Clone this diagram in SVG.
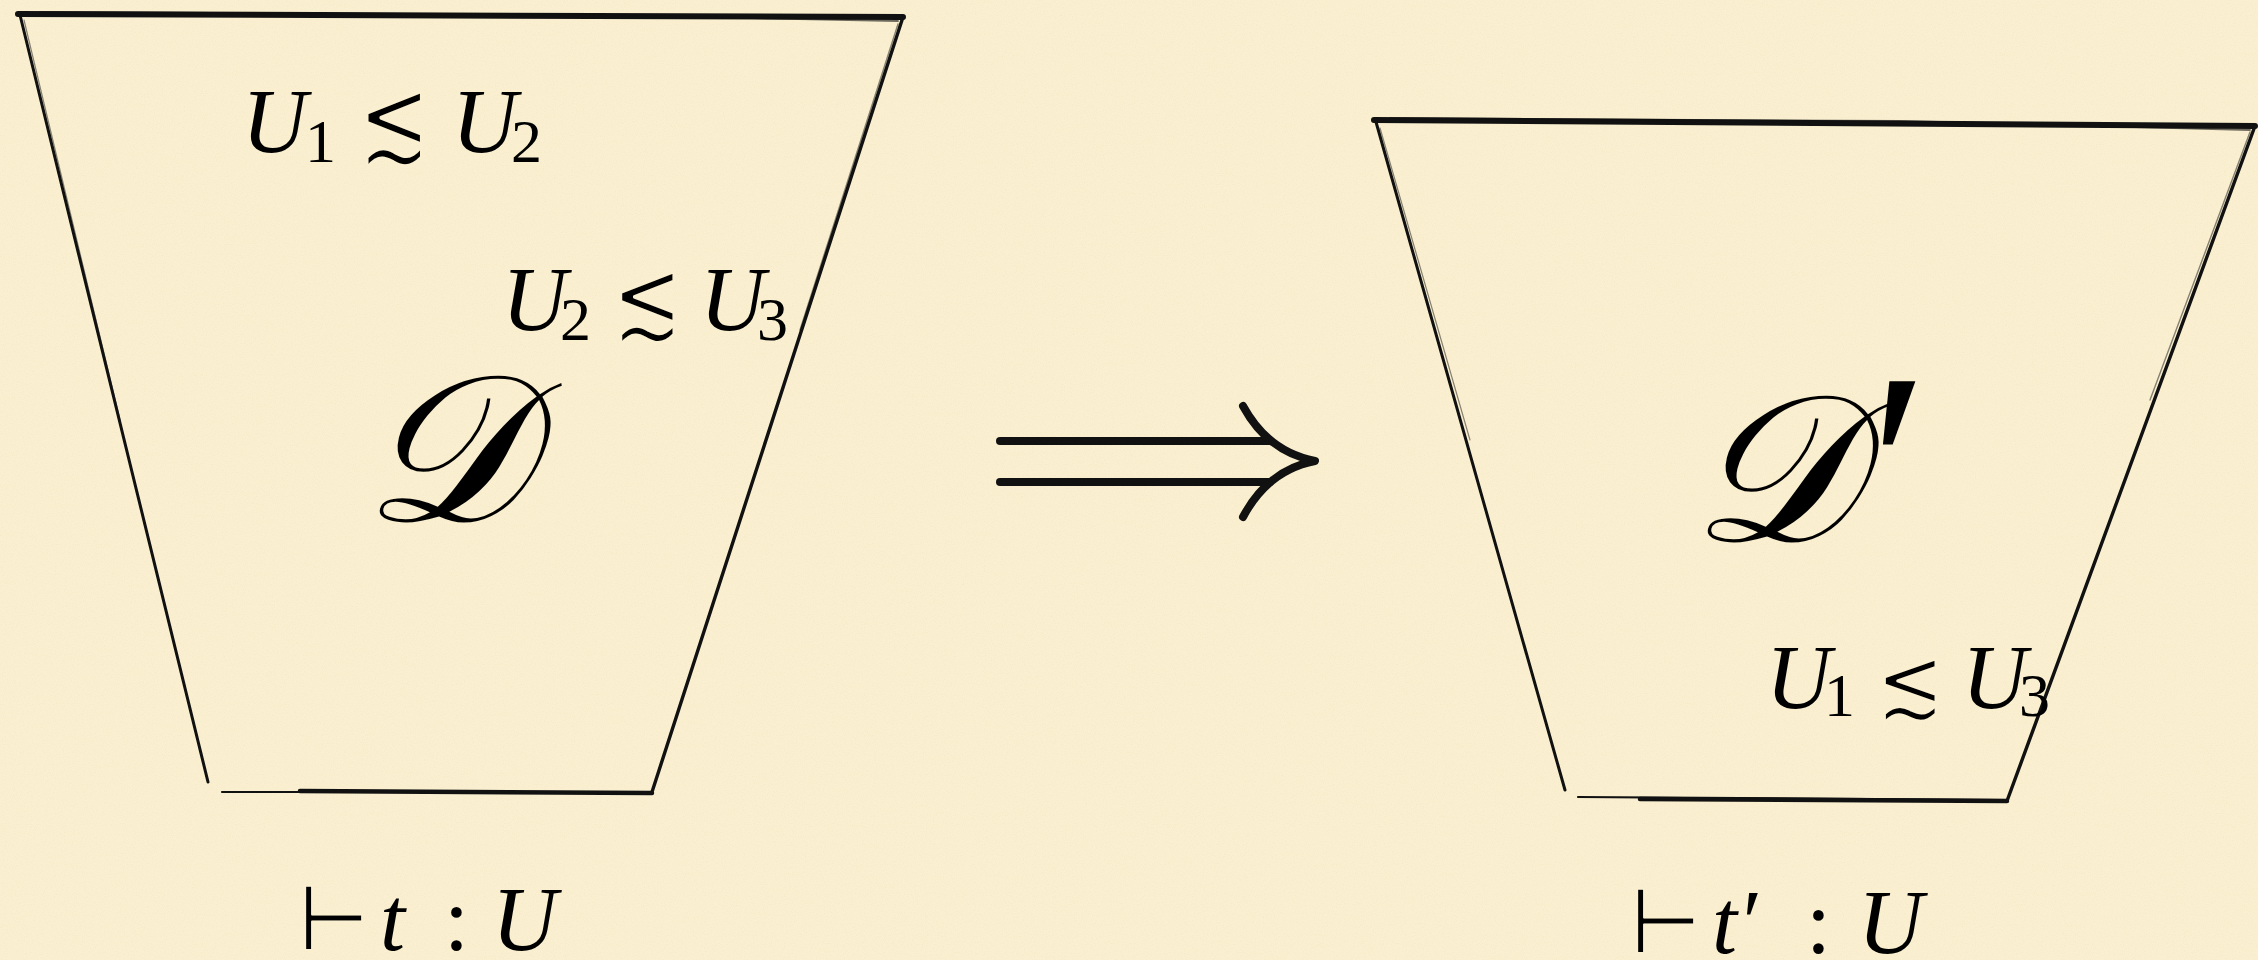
<svg xmlns="http://www.w3.org/2000/svg" width="2258" height="960" viewBox="0 0 2258 960">
<defs>
<filter id="paper" x="0" y="0" width="100%" height="100%">
<feTurbulence type="fractalNoise" baseFrequency="0.9" numOctaves="2" seed="3" result="n"/>
<feColorMatrix in="n" type="matrix" values="0 0 0 0 0.6  0 0 0 0 0.5  0 0 0 0 0.25  0 0 0 -1.4 0.75" result="c"/>
<feComposite in="c" in2="SourceGraphic" operator="in"/>
</filter>
</defs>
<style>
.ink{stroke:#111;fill:none;stroke-linecap:round;stroke-linejoin:round}
.m{font-family:"Liberation Serif","DejaVu Serif",serif;font-style:italic;font-size:90px;fill:#000}
.sub{font-family:"Liberation Serif","DejaVu Serif",serif;font-style:normal;font-size:62px;fill:#000}
.sym{font-family:"DejaVu Serif","Liberation Serif",serif;font-style:normal;font-size:80px;fill:#000}
.thin{stroke:#faf0d1;stroke-width:2.4;stroke-linejoin:round}
.big{font-family:"Liberation Serif","DejaVu Serif",serif;font-style:italic;font-size:208px;fill:#000}
</style>
<rect width="2258" height="960" fill="#faf0d1"/>
<rect width="2258" height="960" fill="#faf0d1" filter="url(#paper)" opacity="0.2"/>

<g id="left-node">
<path class="ink" d="M18,14 L903,17" stroke-width="6"/>
<path class="ink" d="M40,12 L600,15 L898,21" stroke-width="1.8" opacity="0.6"/>
<path class="ink" d="M20,15 L208,782" stroke-width="3"/>
<path class="ink" d="M24,20 L120,420" stroke-width="1.2" opacity="0.5"/>
<path class="ink" d="M903,17 L652,792" stroke-width="3.4"/>
<path class="ink" d="M898,24 L800,330" stroke-width="1.4" opacity="0.5"/>
<path class="ink" d="M222,792 L652,792" stroke-width="2.2"/>
<path class="ink" d="M300,791 L652,793" stroke-width="4.5"/>
<text class="m" x="242" y="152">U</text><text class="sub" x="305" y="162">1</text>
<text class="sym thin" transform="translate(358,161) scale(1.08,1.5)">≲</text>
<text class="m" x="452" y="152">U</text><text class="sub" x="511" y="162">2</text>
<text class="m" x="502" y="330">U</text><text class="sub" x="560" y="340">2</text>
<text class="sym thin" transform="translate(612,338) scale(1.05,1.42)">≲</text>
<text class="m" x="700" y="330">U</text><text class="sub" x="757" y="340">3</text>
<text class="big" x="362" y="521">𝒟</text>
<text x="296" y="950"><tspan class="sym thin" style="font-size:88px;stroke-width:2">⊢</tspan><tspan class="m" x="380">t</tspan><tspan class="sub" style="font-size:90px" x="444">:</tspan><tspan class="m" x="492">U</tspan></text>
</g>

<g id="right-node">
<path class="ink" d="M1374,120 L2255,126" stroke-width="6"/>
<path class="ink" d="M1390,118 L1900,121 L2250,130" stroke-width="1.8" opacity="0.6"/>
<path class="ink" d="M1376,122 L1565,790" stroke-width="3"/>
<path class="ink" d="M1380,128 L1470,440" stroke-width="1.2" opacity="0.5"/>
<path class="ink" d="M2255,126 L2007,801" stroke-width="3.4"/>
<path class="ink" d="M2250,132 L2150,400" stroke-width="1.4" opacity="0.5"/>
<path class="ink" d="M1578,797 L2007,800" stroke-width="2.2"/>
<path class="ink" d="M1640,799 L2007,801" stroke-width="4.5"/>
<text class="big" x="1690" y="541">𝒟<tspan style="font-size:270px" x="1853" dy="17">′</tspan></text>
<text class="m" x="1766" y="708">U</text><text class="sub" x="1824" y="716">1</text>
<text class="sym thin" transform="translate(1876,717) scale(1.02,1.25)">≲</text>
<text class="m" x="1962" y="708">U</text><text class="sub" x="2019" y="716">3</text>
<text x="1628" y="953"><tspan class="sym thin" style="font-size:88px;stroke-width:2">⊢</tspan><tspan class="m" x="1712">t′</tspan><tspan class="sub" style="font-size:90px" x="1806">:</tspan><tspan class="m" x="1858">U</tspan></text>
</g>

<g id="connectors">
<g class="ink" stroke-width="8">
<path d="M1000,441 L1270,441"/>
<path d="M1000,482 L1270,482"/>
<path d="M1243,406 Q1268,452 1315,461 Q1268,470 1243,517"/>
</g>
</g>
</svg>
